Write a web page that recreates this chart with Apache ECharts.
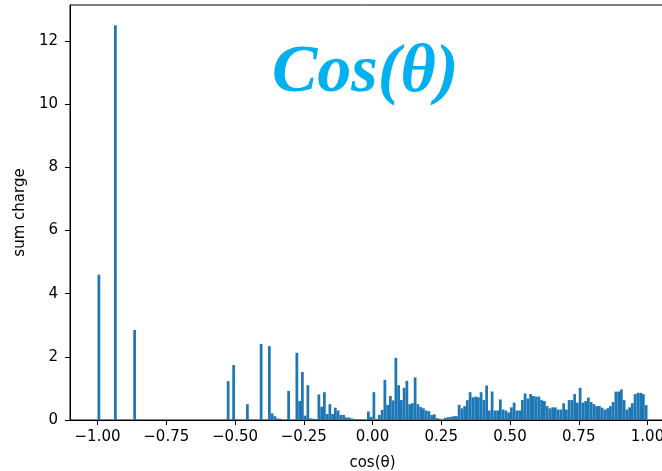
<!DOCTYPE html>
<html>
<head>
<meta charset="utf-8">
<script src="https://cdn.jsdelivr.net/npm/echarts@6/dist/echarts.min.js"></script>
<style>
  html, body { margin: 0; padding: 0; background: #fff; }
  #chart { width: 662px; height: 471px; }
</style>
</head>
<body>
<div id="chart"></div>
<script>
// histogram bins: 200 bins of width 0.01 from -1 to 1
const binStart = -1;
const binWidth = 0.01;

// summed charge per bin
const sumCharge = [
  4.6, 0, 0, 0, 0, 0, 12.5, 0, 0, 0,
  0, 0, 0, 2.85, 0, 0, 0, 0, 0, 0,
  0, 0, 0, 0, 0, 0, 0, 0, 0, 0,
  0, 0, 0, 0, 0, 0, 0, 0, 0, 0,
  0, 0, 0, 0, 0, 0, 0, 1.23, 0, 1.74,
  0, 0, 0, 0, 0.5, 0, 0, 0, 0, 2.41,
  0, 0, 2.34, 0.21, 0.12, 0.05, 0.04, 0, 0, 0.92,
  0, 0, 2.13, 0.6, 1.52, 0.14, 1.1, 0.05, 0.04, 0.03,
  0.81, 0.42, 0.88, 0.19, 0.5, 0.19, 0.39, 0.3, 0.16, 0.16,
  0.08, 0.08, 0.05, 0.03, 0, 0, 0, 0, 0.27, 0.1,
  0.88, 0.03, 0.16, 0.32, 1.27, 0.48, 0.76, 0.62, 1.97, 1.1,
  0.63, 1.02, 1.24, 0.5, 0.53, 1.35, 0.5, 0.41, 0.37, 0.3,
  0.28, 0.16, 0.18, 0.06, 0.04, 0.02, 0.07, 0.09, 0.1, 0.12,
  0.12, 0.48, 0.37, 0.44, 0.63, 0.88, 0.72, 0.74, 0.72, 0.88,
  0.63, 1.09, 0.3, 0.9, 0.3, 0.3, 0.65, 0.33, 0.3, 0.24,
  0.4, 0.55, 0.3, 0.3, 0.63, 0.84, 0.68, 0.82, 0.76, 0.74,
  0.74, 0.63, 0.6, 0.44, 0.37, 0.4, 0.4, 0.33, 0.33, 0.53,
  0.33, 0.63, 0.63, 0.82, 0.55, 1.02, 0.55, 0.6, 0.71, 0.57,
  0.5, 0.44, 0.44, 0.39, 0.33, 0.37, 0.44, 0.57, 0.9, 0.9,
  0.97, 0.63, 0.33, 0.4, 0.53, 0.82, 0.86, 0.86, 0.82, 0.47
];

// tick labels
const xTicks = [-1, -0.75, -0.5, -0.25, 0, 0.25, 0.5, 0.75, 1];
const yTicks = [0, 2, 4, 6, 8, 10, 12];

// [left edge, right edge, value]
const bins = sumCharge.map((v, i) => [
  binStart + i * binWidth,
  binStart + (i + 1) * binWidth,
  v
]);

const chart = echarts.init(document.getElementById('chart'));

const axisFont = {
  color: '#000',
  fontFamily: 'DejaVu Sans',
  fontSize: 15
};

const option = {
  animation: false,
  title: {
    text: 'Cos(θ)',
    left: 267,
    top: 34,
    textStyle: {
      fontFamily: 'Liberation Serif',
      fontStyle: 'italic',
      fontWeight: 'bold',
      fontSize: 68,
      color: '#00b0f0'
    }
  },
  grid: {
    left: 70,
    top: 5,
    width: 605,
    bottom: 51,
    outerBoundsMode: 'none',
    containLabel: false,
    show: true,
    borderColor: '#000',
    borderWidth: 1
  },
  xAxis: {
    type: 'value',
    min: -1.1,
    max: 1.1,
    name: 'cos(θ)',
    nameLocation: 'middle',
    nameGap: 36,
    nameTextStyle: axisFont,
    axisLine: { onZero: false, lineStyle: { color: '#000' } },
    axisTick: {
      customValues: xTicks,
      length: 5,
      lineStyle: { color: '#000' }
    },
    axisLabel: Object.assign({
      customValues: xTicks,
      margin: 10,
      formatter: v => (v < 0 ? '\u2212' : '') + Math.abs(v).toFixed(2)
    }, axisFont),
    splitLine: { show: false }
  },
  yAxis: {
    type: 'value',
    min: 0,
    max: 13.14,
    name: 'sum charge',
    nameLocation: 'middle',
    nameGap: 42,
    nameTextStyle: axisFont,
    axisLine: { show: true, onZero: false, lineStyle: { color: '#000' } },
    axisTick: {
      show: true,
      customValues: yTicks,
      length: 5,
      lineStyle: { color: '#000' }
    },
    axisLabel: Object.assign({
      customValues: yTicks,
      margin: 12
    }, axisFont),
    splitLine: { show: false }
  },
  series: [
    {
      type: 'custom',
      data: bins,
      encode: { x: [0, 1], y: 2 },
      renderItem: function (params, api) {
        const top = api.coord([api.value(0), api.value(2)]);
        const base = api.coord([api.value(1), 0]);
        return {
          type: 'rect',
          shape: {
            x: top[0],
            y: top[1],
            width: base[0] - top[0],
            height: base[1] - top[1]
          },
          style: { fill: '#1f77b4' }
        };
      }
    }
  ]
};

chart.setOption(option);
</script>
</body>
</html>
